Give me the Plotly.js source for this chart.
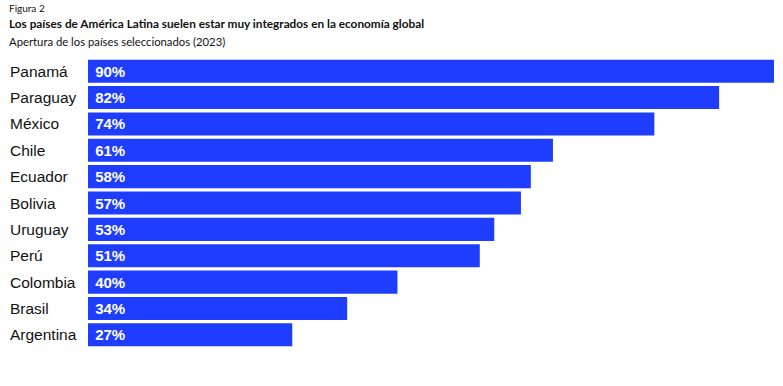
<!DOCTYPE html>
<html><head><meta charset="utf-8">
<script src="https://cdn.plot.ly/plotly-3.0.1.min.js"></script>
<style>html,body{margin:0;padding:0;background:#fff}#chart{width:783px;height:386px}</style>
</head><body><div id="chart"></div>
<script>
const countries = ["Panamá","Paraguay","México","Chile","Ecuador","Bolivia","Uruguay","Perú","Colombia","Brasil","Argentina"];
const values = [90, 82.8, 74.3, 61, 58.1, 56.8, 53.3, 51.4, 40.6, 34, 26.8];
const labels = ["90%","82%","74%","61%","58%","57%","53%","51%","40%","34%","27%"];

const W = 783, L = 88, R = 9;
const plotW = W - L - R;
const annotations = countries.map(c => ({
  text: c, xref: "paper", yref: "y", x: (8 - L) / plotW, y: c,
  xanchor: "left", yanchor: "middle", showarrow: false,
  font: {family: "Liberation Sans, Arial, sans-serif", size: 15.5, color: "#111"}
}));
const hx = (7 - L) / plotW;
annotations.push(
  {text: "Figura 2", xref: "paper", yref: "paper", x: hx, y: 1, yshift: 50, xanchor: "left", yanchor: "middle", showarrow: false, font: {family: "Lato, sans-serif", size: 10, color: "#111"}},
  {text: "Los países de América Latina suelen estar muy integrados en la economía global", xref: "paper", yref: "paper", x: hx, y: 1, yshift: 35, xanchor: "left", yanchor: "middle", showarrow: false, font: {family: "Lato, sans-serif", size: 11.8, color: "#111", weight: "bold"}},
  {text: "Apertura de los países seleccionados (2023)", xref: "paper", yref: "paper", x: hx, y: 1, yshift: 17, xanchor: "left", yanchor: "middle", showarrow: false, font: {family: "Lato, sans-serif", size: 11.3, color: "#111"}}
);

Plotly.newPlot("chart", [{
  type: "bar", orientation: "h", y: countries, x: values,
  text: labels, textposition: "inside", insidetextanchor: "start",
  texttemplate: "\u00a0%{text}",
  textfont: {family: "Liberation Sans, Arial, sans-serif", size: 15, color: "#fff", weight: "bold"},
  marker: {color: "#1f3dff"}, hoverinfo: "skip", cliponaxis: false
}], {
  width: 783, height: 386,
  margin: {l: L, r: R, t: 58, b: 38},
  paper_bgcolor: "#fff", plot_bgcolor: "#fff",
  bargap: 0.125,
  xaxis: {range: [0, 90], visible: false, fixedrange: true},
  yaxis: {autorange: "reversed", showticklabels: false, showgrid: false, zeroline: false, ticks: "", fixedrange: true},
  showlegend: false,
  annotations: annotations
}, {displayModeBar: false, staticPlot: true});
</script></body></html>
